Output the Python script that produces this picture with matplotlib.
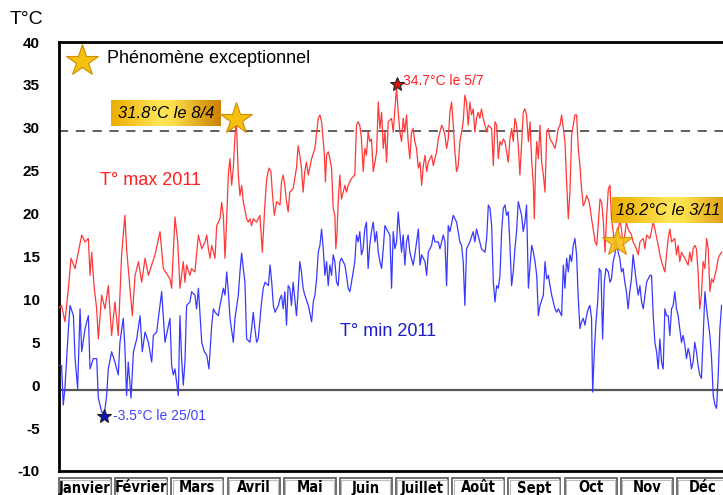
import matplotlib
matplotlib.use("Agg")
import matplotlib.pyplot as plt
import matplotlib.transforms as mtransforms
from matplotlib.patches import Rectangle
import numpy as np

# T max 2011 (jour de l'annee, degres C)
tmax_day = [0, 1.4, 3.2, 5.1, 6.5, 8.7, 12.3, 14.1, 15.9, 16.8, 17.7, 19.1, 20.4, 21.3, 23.1, 24.9, 26.7, 28.5, 30.3, 32.1,
            33.9, 35.7, 36.6, 38.4, 39.7, 41.2, 43.0, 44.8, 46.6, 48.4, 50.2, 52.0, 54.7, 56.5, 60.1,
            61.0, 62.8, 64.3, 65.5, 66.4, 67.3, 68.2, 69.1, 70.9, 71.8, 73.6, 75.5, 77.3, 79.1, 80.0, 80.9, 81.8, 82.7,
            84.5, 85.4, 87.2, 88.1, 89.0, 89.9, 90.8, 91.7, 92.6, 93.5, 94.4, 95.3, 96.0, 97.1, 98.0, 98.9, 99.8,
            101.6, 102.5, 103.4, 104.3, 105.2, 107.0, 108.8, 110.1, 111.6, 112.5, 113.7, 114.8, 115.5, 116.6, 117.9, 119.7,
            120.5, 121.4, 122.3, 123.2, 124.1, 125.0, 126.8, 128.6, 129.5, 130.4, 131.3, 132.2, 133.1, 134.0, 135.0,
            136.8, 138.6, 140.4, 141.3, 142.2, 143.6, 144.3, 144.9, 145.8, 146.7, 147.6, 148.5, 149.4, 149.9, 150.5,
            151.2, 152.1, 153.0, 153.9, 154.8, 155.7, 156.6, 158.4, 160.2, 161.1, 162.0, 162.9, 163.8, 164.7, 165.6,
            166.5, 167.4, 168.3, 169.2, 170.2, 171.1, 172.0, 172.9, 173.8, 174.7, 175.6, 176.5, 177.4, 178.3,
            180.1, 181.0, 181.9, 182.8, 183.7, 184.6, 185.5, 186.4, 187.3, 188.2, 189.1, 190.0, 190.9, 191.8, 192.7,
            193.6, 194.6, 195.5, 196.4, 197.3, 198.2, 199.1, 200.0, 201.8, 202.7, 203.6, 204.5, 205.4, 206.3, 207.2,
            208.1, 209.0, 209.9, 210.8, 211.7, 212.6, 213.5, 214.4, 215.3, 216.2, 217.1, 218.0, 218.9, 219.8, 220.7,
            221.6, 222.5, 223.4, 224.3, 225.2, 226.1, 227.0, 227.9, 228.8, 229.7, 230.7, 231.6, 232.5, 234.3, 235.2,
            236.1, 237.0, 237.9, 238.8,
            239.7, 240.6, 241.5, 242.4, 243.3, 244.2, 245.1, 246.0, 246.9, 247.8, 248.7, 249.6, 250.5, 251.4, 252.3,
            253.2, 254.2, 255.1, 256.0, 256.9, 257.4, 258.1, 258.7, 259.6, 260.5, 261.4, 262.3, 263.2, 264.1, 265.0,
            265.9, 266.8, 268.6, 269.5, 270.4, 271.3, 272.2, 273.1, 274.0, 274.9, 275.8, 276.7, 277.6, 278.5, 279.4,
            280.3, 281.2, 282.1, 283.0, 283.9, 284.8, 285.7, 286.6, 287.5, 288.4, 289.3, 290.3, 291.2, 292.1, 293.0,
            293.9, 294.8, 295.7, 296.6, 297.5, 298.4,
            299.2, 300.1, 301.0, 301.9, 302.8, 303.7, 304.6, 305.5, 306.4, 307.3, 308.2, 310.0, 310.9, 312.7, 313.7,
            314.6, 316.4, 317.3, 318.2, 320.0, 321.8, 322.7, 324.5, 325.4, 326.3, 328.1, 329.0, 329.9, 330.8, 331.7,
            333.5, 334.4, 335.3, 336.2, 337.1, 338.9, 340.7, 341.6, 342.5, 343.4, 344.3, 345.2, 346.1, 347.0, 347.9,
            348.8, 349.8, 350.7, 351.6, 352.5, 353.4, 354.3, 355.2, 356.1, 357.0, 357.9, 358.8]
tmax = [9.0, 9.3, 7.4, 11.3, 14.8, 13.6, 17.5, 16.7, 17.1, 12.8, 15.5, 11.3, 8.9, 5.4, 10.5, 8.9, 11.6, 5.8, 9.7, 5.8,
        15.2, 19.8, 15.9, 11.3, 8.1, 12.8, 14.4, 12.0, 14.8, 12.8, 14.0, 15.2, 17.9, 13.6, 12.4,
        11.3, 19.6, 16.7, 11.3, 12.8, 14.4, 12.0, 14.0, 12.8, 13.6, 13.2, 17.5, 15.9, 16.7, 17.5, 15.9, 14.8, 16.3,
        14.8, 18.6, 19.4, 21.3, 19.8, 14.8, 19.4, 24.5, 26.4, 23.3, 25.3, 29.1, 31.0, 24.5, 22.1, 23.3, 21.4,
        19.4, 19.0, 19.4, 18.6, 19.4, 19.0, 19.8, 15.5, 21.4, 24.1, 25.3, 24.9, 22.5, 19.8, 21.4, 21.0,
        23.7, 24.5, 23.3, 21.4, 20.2, 22.5, 22.9, 25.3, 27.9, 26.8, 25.3, 22.5, 24.9, 26.0, 24.5,
        26.4, 27.6, 31.1, 31.5, 30.7, 27.2, 23.7, 26.8, 27.2, 26.4, 25.3, 20.6, 19.8, 15.9, 17.5,
        21.4, 24.5, 21.7, 22.5, 23.3, 22.5, 23.3, 24.1, 24.5, 30.3, 30.7, 30.3, 28.7, 24.9, 27.6,
        26.8, 29.5, 28.4, 28.7, 24.9, 26.0, 27.2, 33.0, 29.9, 31.8, 27.6, 29.5, 26.0, 30.7,
        31.1, 29.5, 32.2, 34.7, 31.8, 29.5, 28.4, 31.1, 29.5, 31.5, 28.4, 26.4, 29.5, 29.9, 28.4,
        27.6, 25.3, 26.0, 23.3, 25.6, 26.8, 24.9, 26.0, 26.8, 25.6, 26.4, 27.2, 28.7, 29.5, 30.3,
        29.9, 29.1, 27.6, 28.7, 31.8, 33.0, 30.3, 27.2, 24.9, 25.6, 28.4, 29.5, 30.7, 33.8, 33.0,
        30.3, 33.0, 31.5, 32.2, 29.5, 31.1, 31.8, 31.1, 32.2, 31.1, 30.3, 29.5, 30.3, 29.9, 25.6,
        30.7, 30.3, 26.4, 28.4,
        28.0, 28.7, 28.4, 27.2, 26.0, 28.7, 29.9, 28.4, 31.1, 30.3, 28.0, 24.5, 28.0, 31.8, 32.2,
        31.5, 28.4, 30.7, 26.0, 23.3, 19.4, 25.6, 28.4, 26.4, 30.3, 26.0, 24.5, 22.5, 29.5, 29.9,
        28.7, 28.4, 27.6, 28.7, 29.9, 30.3, 31.5, 29.9, 28.4, 23.7, 19.4, 22.5, 29.1, 30.3, 31.5,
        31.5, 27.6, 25.6, 22.9, 20.9, 21.3, 22.1, 21.7, 20.9, 19.4, 18.2, 16.7, 16.3, 19.0, 21.7,
        21.3, 19.0, 15.5, 19.8, 22.9, 23.3,
        19.4, 17.9, 15.9, 17.5, 17.9, 19.4, 18.2, 16.3, 17.5, 19.0, 18.2, 17.5, 16.7, 15.9, 15.2,
        16.7, 17.1, 15.9, 17.5, 17.1, 19.0, 18.2, 16.3, 15.2, 14.4, 13.2, 15.2, 17.1, 18.2, 16.7,
        17.1, 15.2, 16.3, 14.4, 15.5, 14.8, 14.0, 15.5, 14.4, 15.9, 16.3, 15.9, 13.2, 8.9, 10.5,
        14.4, 13.6, 17.1, 15.9, 10.9, 12.4, 12.0, 12.8, 13.6, 14.8, 15.2, 15.5]

# T min 2011
tmin_day = [0, 1.4, 2.3, 3.2, 5.1, 6.0, 7.8, 8.7, 10.1, 11.4, 12.3, 14.1, 15.9, 16.8, 18.6, 20.4, 21.3, 23.1, 24.5, 25.8,
            26.7, 28.5, 30.3, 32.1, 33.0, 34.8, 35.7, 36.6, 37.5, 39.0, 40.3, 42.1, 43.9, 45.1, 46.6, 48.4, 50.2, 51.1,
            52.9, 54.7, 55.6, 57.4, 60.1,
            61.0, 61.9, 62.8, 63.7, 64.6, 65.5, 66.4, 67.3, 68.2, 69.1, 70.9, 71.8, 73.6, 74.5, 75.5, 77.3, 78.7, 80.0,
            81.2, 82.7, 83.6, 84.5, 86.3, 87.2, 89.0, 89.9, 90.8, 91.7, 92.6, 94.4, 95.3, 97.1, 98.0, 98.9, 99.8, 100.7,
            101.6, 103.4, 104.3, 105.2, 106.1, 107.0, 107.9, 109.7, 110.6, 111.6, 113.4, 114.3, 115.2, 116.1, 117.0,
            118.8, 119.7,
            120.5, 121.4, 122.3, 123.2, 124.1, 125.0, 125.9, 126.8, 128.6, 129.5, 130.4, 131.3, 132.2, 133.1, 135.0,
            136.8, 137.7, 138.6, 139.5, 140.4, 141.3, 142.2, 143.1, 144.0, 144.9, 145.8, 146.7, 147.6, 148.5, 149.4,
            150.3, 151.2, 152.1, 153.0, 154.8, 155.7, 156.6, 157.5, 158.4, 159.3, 160.2, 161.1, 162.0, 162.9, 163.8,
            164.7, 165.6, 166.5, 167.4, 168.3, 169.2, 170.2, 171.1, 172.0, 172.9, 173.8, 174.7, 175.6, 176.5, 177.4,
            179.2,
            180.1, 181.0, 181.9, 182.8, 183.7, 184.6, 185.5, 186.4, 187.3, 188.2, 189.1, 190.0, 191.8, 192.7, 194.6,
            195.5, 196.4, 198.2, 199.1, 200.0, 201.8, 202.7, 203.6, 205.4, 206.3, 208.1, 209.0, 209.9, 210.8, 211.7,
            213.5, 215.3, 217.1, 218.0, 218.9, 219.8, 220.7, 222.5, 224.3, 225.2, 226.1, 227.9, 228.8, 230.7, 231.6,
            232.5, 233.4, 234.3, 235.2, 236.1, 237.0, 237.9, 238.8,
            239.7, 240.6, 241.5, 242.4, 243.3, 244.2, 245.1, 246.0, 246.9, 247.8, 248.7, 249.6, 250.5, 251.4, 252.3,
            253.2, 254.2, 255.1, 256.0, 256.9, 257.8, 258.7, 259.6, 260.5, 262.3, 263.2, 264.1, 265.0, 265.9, 266.8,
            268.6, 269.5, 270.4, 272.2, 273.1, 274.0, 274.9, 275.8, 276.7, 277.6, 278.5, 279.4, 280.3, 281.2, 282.1,
            283.0, 283.9, 284.8, 285.7, 286.6, 287.5, 288.4, 289.0, 289.9, 290.8, 291.7, 292.6, 293.5, 294.4, 295.3,
            296.2, 297.5, 298.4,
            299.2, 300.1, 301.0, 301.9, 302.8, 303.7, 304.6, 305.5, 306.4, 307.3, 308.2, 309.1, 310.0, 310.9, 311.8,
            312.7, 313.7, 314.6, 315.5, 316.4, 317.3, 318.2, 320.0, 320.9, 321.8, 322.7, 323.6, 324.5, 325.4, 326.3,
            327.2, 328.1, 329.0, 329.9, 330.8, 331.7, 332.6, 333.5, 334.4, 335.3, 336.2, 337.1, 338.0, 338.9, 339.8,
            340.7, 341.6, 342.5, 343.4, 344.3, 345.2, 346.1, 347.0, 347.9, 348.8, 349.8, 350.7, 351.6, 352.5, 353.4,
            354.3, 355.2, 356.1, 357.0, 357.9, 358.8]
tmin = [2.3, 2.3, -2.3, -0.4, 6.6, 9.3, 8.1, 3.1, -0.4, 8.9, 3.9, 6.6, 8.1, 1.9, 3.1, 3.1, -1.5, -3.1, -3.5, -1.2,
        1.9, 3.9, 2.7, 1.2, 5.0, 7.8, 4.3, -1.2, 2.7, -1.5, 3.9, 5.4, 8.1, 3.9, 6.2, 5.0, 2.7, 5.8,
        6.2, 9.3, 10.9, 5.0, 7.8,
        2.3, 1.2, 1.9, 0.4, -1.2, 8.1, 3.1, 0.0, 2.7, 9.3, 9.7, 10.9, 10.5, 8.9, 11.3, 5.0, 3.9, 3.5,
        1.9, 7.0, 8.9, 8.5, 8.1, 9.3, 11.3, 10.5, 13.2, 10.9, 7.8, 5.0, 7.8, 10.5, 13.2, 15.4, 13.6, 12.0,
        5.4, 5.0, 6.6, 8.5, 6.6, 5.0, 5.4, 9.7, 11.3, 12.0, 11.6, 14.0, 12.0, 9.3, 8.5,
        9.3, 10.1,
        10.5, 8.9, 10.9, 7.0, 11.6, 11.3, 9.3, 12.0, 8.1, 10.9, 14.4, 13.2, 11.3, 10.5, 9.3,
        7.4, 9.7, 10.5, 12.4, 15.5, 16.3, 18.2, 15.9, 12.8, 14.4, 11.6, 14.0, 12.8, 15.2, 14.4,
        12.0, 11.6, 14.4, 14.8, 14.0, 12.8, 11.3, 10.9, 12.0, 13.2, 14.4, 17.5, 16.7, 17.9, 15.2,
        15.9, 18.2, 19.0, 13.6, 16.3, 17.9, 19.0, 16.7, 17.9, 15.5, 14.4, 13.6, 15.9, 18.6, 18.2,
        17.5,
        11.3, 17.9, 15.9, 16.7, 20.2, 17.9, 15.5, 17.5, 14.0, 16.7, 17.5, 15.5, 14.0, 15.2, 18.2,
        14.0, 15.2, 14.4, 12.8, 15.5, 16.3, 17.5, 16.7, 16.7, 15.9, 17.5, 16.7, 11.6, 18.6, 17.9,
        19.8, 19.0, 16.7, 16.3, 14.4, 9.3, 15.9, 16.7, 17.9, 16.7, 18.2, 16.7, 15.9, 15.5, 17.1,
        21.0, 20.6, 18.6, 12.0, 9.7, 11.6, 11.3, 12.8,
        17.9, 20.6, 21.0, 19.8, 20.2, 16.3, 11.6, 13.2, 15.9, 17.9, 21.4, 20.6, 19.8, 17.9, 19.0,
        21.0, 11.3, 14.0, 16.3, 15.5, 14.4, 12.8, 8.1, 9.3, 10.5, 14.4, 12.4, 12.8, 11.6, 10.5,
        8.9, 8.5, 8.9, 8.1, 14.0, 11.3, 14.8, 13.2, 15.2, 14.4, 16.3, 17.1, 15.2, 10.1, 6.6,
        7.4, 7.8, 7.0, 8.1, 8.9, 9.3, 7.8, -0.8, 3.9, 7.4, 9.7, 13.6, 13.2, 5.4, 12.0,
        13.6, 13.2, 12.0,
        12.4, 14.4, 15.2, 16.7, 15.5, 14.8, 13.2, 13.6, 12.0, 10.9, 8.9, 10.9, 12.4, 15.2, 13.6,
        12.0, 10.5, 11.6, 9.7, 8.9, 10.5, 12.0, 12.8, 12.8, 8.1, 5.0, 3.9, 1.9, 5.4, 2.7,
        1.9, 8.9, 8.1, 8.1, 5.8, 8.9, 9.3, 10.9, 8.9, 8.1, 6.6, 5.0, 5.8, 4.7, 3.1,
        4.3, 3.5, 1.9, 2.7, 5.0, 3.9, 2.3, 1.2, 0.8, 5.4, 10.9, 8.9, 7.4, 5.8, 3.1,
        -1.2, -2.3, -2.7, 1.2, 6.6, 9.3]

mois = ["Janvier", "Février", "Mars", "Avril", "Mai", "Juin",
        "Juillet", "Août", "Sept", "Oct", "Nov", "Déc"]
yticks = [-10, -5, 0, 5, 10, 15, 20, 25, 30, 35, 40]

plt.rcParams['font.family'] = ['Liberation Sans', 'DejaVu Sans']

W, H = 723, 495
fig = plt.figure(figsize=(W / 100, H / 100), dpi=100)
# zone du graphe : x 59 -> 733 px (depasse a droite), y 42 -> 471 px
ax = fig.add_axes([59 / W, 1 - 471 / H, (733 - 59) / W, (471 - 42) / H])
ax.set_xlim(0, 365)
ax.set_ylim(-10, 40)

ax.plot(tmax_day, tmax, color="#ff3838", lw=0.9, zorder=3)
ax.plot(tmin_day, tmin, color="#3838ff", lw=0.9, zorder=3)

# seuil 30 degres et ligne zero
ax.axhline(29.6, color="#333333", lw=1.1, dashes=(6, 5), zorder=2)
ax.axhline(-0.6, color="#555555", lw=1.6, zorder=2)

ax.set_yticks(yticks)
ax.set_yticklabels([str(v) for v in yticks], fontsize=11, fontweight="bold")
ax.tick_params(axis="y", length=0, pad=14)
ax.set_xticks([])
for side in ["left", "top", "bottom"]:
    ax.spines[side].set_linewidth(2.0)
    ax.spines[side].set_color("black")
ax.spines["right"].set_visible(False)

fig.text(10 / W, 1 - 20 / H, "T°C", fontsize=14, va="center", ha="left")

# legende
ax.plot([12.5], [37.8], marker="*", markersize=24, color="#f5c010",
        markeredgecolor="#d08c00", markeredgewidth=0.8, zorder=5)
ax.text(26, 38.1, "Phénomène exceptionnel", fontsize=13, va="center", ha="left")

ax.text(22, 23.8, "T° max 2011", fontsize=13, color="#ff2020", va="center", ha="left")
ax.text(152, 6.3, "T° min 2011", fontsize=13, color="#1c1cc8", va="center", ha="left")


def gold_box(x0, x1, y0, y1):
    grad = np.linspace(0, 1, 256)
    r = np.interp(grad, [0, 0.45, 0.55, 1], [0.93, 1.0, 1.0, 0.80])
    g = np.interp(grad, [0, 0.45, 0.55, 1], [0.68, 0.90, 0.88, 0.50])
    b = np.interp(grad, [0, 0.45, 0.55, 1], [0.00, 0.35, 0.30, 0.00])
    img = np.dstack([r, g, b])
    ax.imshow(img, extent=(x0, x1, y0, y1), aspect="auto", zorder=4, interpolation="bilinear")


gold_box(28.2, 87.7, 30.2, 33.2)
ax.text(58, 31.7, "31.8°C le 8/4", fontsize=12, style="italic", va="center", ha="center", zorder=6)
ax.plot([95.8], [31.0], marker="*", markersize=24, color="#f5c010",
        markeredgecolor="#d08c00", markeredgewidth=0.8, zorder=5)

gold_box(299.4, 370, 18.9, 21.9)
ax.text(301.6, 20.4, "18.2°C le 3/11", fontsize=12, style="italic", va="center", ha="left", zorder=6)
ax.plot([302], [16.7], marker="*", markersize=22, color="#f5c010",
        markeredgecolor="#d08c00", markeredgewidth=0.8, zorder=5, alpha=0.9)

ax.plot([182.8], [35.1], marker="*", markersize=10, color="#e01010",
        markeredgecolor="#202020", markeredgewidth=0.8, zorder=5)
ax.text(186.2, 35.5, "34.7°C le 5/7", fontsize=10, color="#ff2020", va="center", ha="left")

ax.plot([24.4], [-3.6], marker="*", markersize=10, color="#1010c0",
        markeredgecolor="#202020", markeredgewidth=0.8, zorder=5)
ax.text(29.2, -3.6, "-3.5°C le 25/01", fontsize=10, color="#4040ff", va="center", ha="left")

ax.set_xlim(0, 365)
ax.set_ylim(-10, 40)

# boites des mois
trans = mtransforms.blended_transform_factory(ax.transData, fig.transFigure)
pas = 365 / 12
for i, m in enumerate(mois):
    x0 = i * pas
    box = Rectangle((x0, -0.05), pas - 2.2, 1 - 478 / H + 0.05, transform=trans,
                    facecolor="white", edgecolor="#555555", lw=1.2, clip_on=False)
    fig.add_artist(box)
    box2 = Rectangle((x0 + 0.8, -0.05), pas - 3.8, 1 - 480 / H + 0.05, transform=trans,
                     facecolor="none", edgecolor="#bbbbbb", lw=0.8, clip_on=False)
    fig.add_artist(box2)
    fig.text(x0 + (pas - 2.2) / 2, 1 - 480.5 / H, m, transform=trans, ha="center", va="top",
             fontsize=10.5, fontweight="bold", fontstretch="condensed",
             family=["DejaVu Sans"])

fig.savefig("out.png", dpi=100)
